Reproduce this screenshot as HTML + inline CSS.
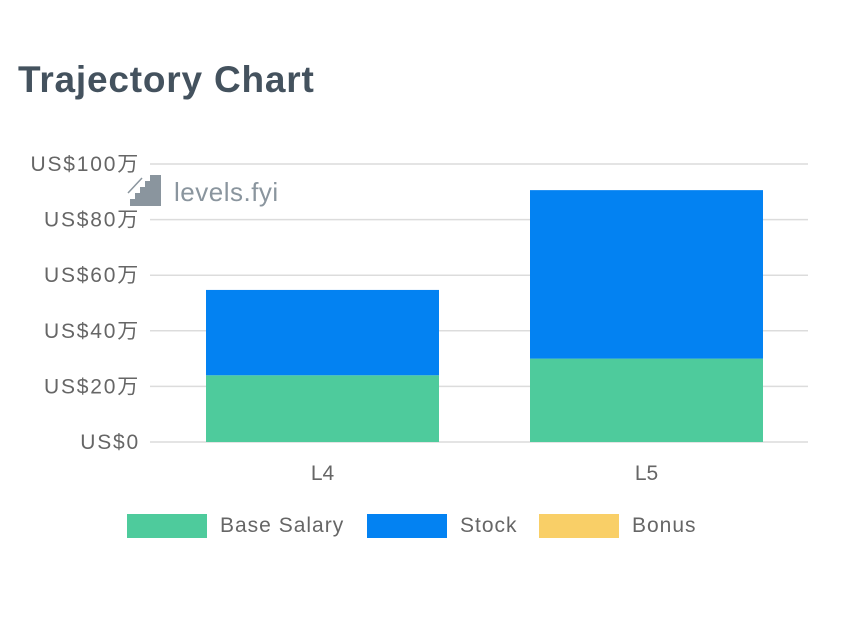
<!DOCTYPE html>
<html><head><meta charset="utf-8"><style>
body{margin:0;background:#fff;width:865px;height:624px;overflow:hidden;font-family:"Liberation Sans","Noto Sans CJK SC",sans-serif}
</style></head><body>
<svg width="865" height="624" xmlns="http://www.w3.org/2000/svg" id="chart">
<text x="18" y="92" font-size="37" font-weight="bold" fill="#44525e" letter-spacing="0.8" font-family="Liberation Sans, sans-serif">Trajectory Chart</text>
<g id="grid"></g><g id="bars"></g><g id="xl"></g>
<g>
<line x1="128" y1="193" x2="142" y2="178" stroke="#8a959e" stroke-width="1.5"/>
<path d="M130 206 V199 H135 V193 H140 V187 H145 V181 H150 V175 H161 V206 Z" fill="#8a959e"/>
<text x="174" y="201" font-size="26" fill="#8a959e" letter-spacing="0.5">levels.fyi</text>
</g>
<g id="legend"></g>
</svg>
<script>
const categories=["L4","L5"];
const baseSalary=[24,30];
const stock=[30.7,60.6];
const bonus=[0,0];
const yTicks=[0,20,40,60,80,100];
const yTickLabels=["US$0","US$20万","US$40万","US$60万","US$80万","US$100万"];
const NS="http://www.w3.org/2000/svg";
const x0=150,x1=808,bx0=160.5,bx1=808.5,y0=442,y1=164,yMax=100;
const y=v=>y0-(v/yMax)*(y0-y1);
const band=(bx1-bx0)/categories.length;
const xc=i=>bx0+band*(i+0.5);
const bw=233;
function el(t,a,p){const e=document.createElementNS(NS,t);for(const k in a)e.setAttribute(k,a[k]);p.appendChild(e);return e;}
const grid=document.getElementById('grid');
yTicks.forEach((t,i)=>{
 const l=el('line',{x1:x0,x2:x1,y1:y(t),y2:y(t),stroke:'#dcdcdc','stroke-width':1.5},grid);
 
 
 const tx=el('text',{x:140,y:y(t)+7,'text-anchor':'end','font-size':21,fill:'#666','letter-spacing':1.8},grid);
 tx.textContent=yTickLabels[i];
 
 
});
const bars=document.getElementById('bars');
const colors=['#4ecb9c','#0382f2','#f9cf67'];
categories.forEach((c,i)=>{
 let acc=0;
 [baseSalary[i],stock[i],bonus[i]].forEach((v,s)=>{
  if(v<=0)return;
  const r=el('rect',{x:xc(i)-bw/2,y:y(acc+v),width:bw,height:y(acc)-y(acc+v),fill:colors[s]},bars);
  
  
  acc+=v;
 });
 const t=el('text',{x:xc(i),y:480,'text-anchor':'middle','font-size':21,fill:'#666'},document.getElementById('xl'));
 t.textContent=c;
 
 
});
const lg=document.getElementById('legend');
const names=['Base Salary','Stock','Bonus'];const lx=[127,367,539];
names.forEach((n,i)=>{
 const g=el('g',{},lg);
 
 
 el('rect',{x:lx[i],y:514,width:80,height:24,fill:colors[i]},g);
 const t=el('text',{x:lx[i]+93,y:532,'font-size':21,fill:'#666','letter-spacing':1},g);t.textContent=n;
});
</script>
</body></html>
